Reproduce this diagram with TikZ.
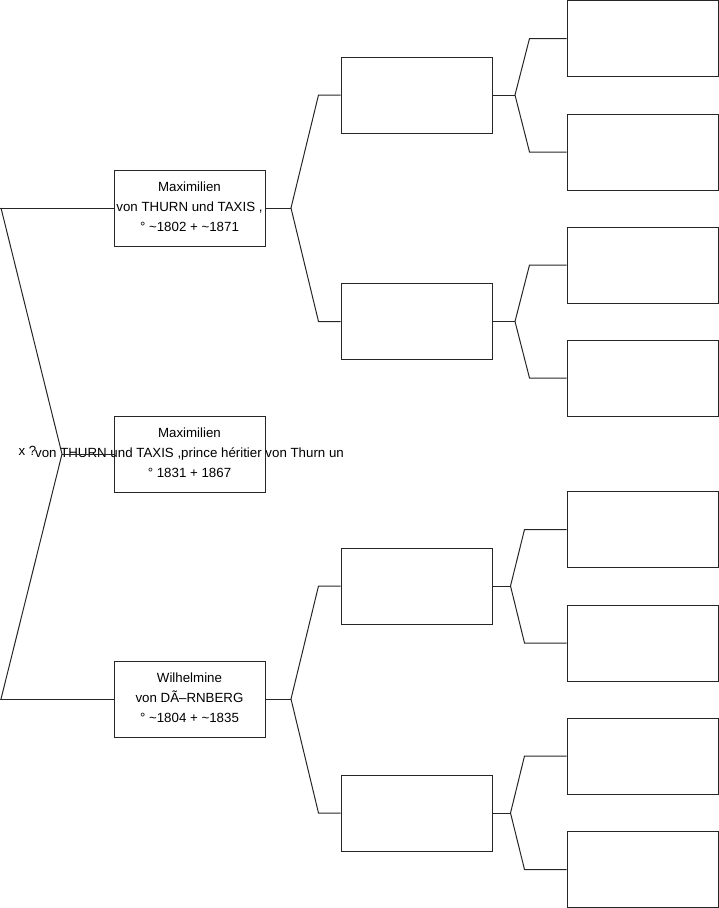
\documentclass[tikz,border=0pt]{standalone}
\usepackage{fontspec}
\setmainfont{Liberation Sans}
\usetikzlibrary{calc}
\begin{document}
\begin{tikzpicture}[x=1pt,y=-1pt,
  line width=1pt,
  personbox/.style={draw=black!85, rectangle, minimum width=151pt, minimum height=76pt, inner sep=0pt},
  persontext/.style={align=center, inner sep=0pt, font=\fontsize{13.3pt}{20pt}\selectfont},
  link/.style={draw=black!85, line join=miter}]
\useasboundingbox (0,0) rectangle (719,908);
% generation 1
\node[personbox] (g1a) at (189.5,208) {};
\node[personbox] (g1b) at (189.5,454) {};
\node[personbox] (g1c) at (189.5,699) {};
% generation 2
\node[personbox] (g2a) at (416.5,95) {};
\node[personbox] (g2b) at (416.5,321.5) {};
\node[personbox] (g2c) at (416.5,586) {};
\node[personbox] (g2d) at (416.5,813) {};
% generation 3
\node[personbox] (g3a) at (642.5,38.5) {};
\node[personbox] (g3b) at (642.5,152) {};
\node[personbox] (g3c) at (642.5,265) {};
\node[personbox] (g3d) at (642.5,378) {};
\node[personbox] (g3e) at (642.5,529.5) {};
\node[personbox] (g3f) at (642.5,643) {};
\node[personbox] (g3g) at (642.5,756) {};
\node[personbox] (g3h) at (642.5,869.5) {};
% texts
\node[persontext, yshift=1.5pt] (t1a) at (g1a.center) {Maximilien\\von THURN und TAXIS ,\\° \textasciitilde 1802 + \textasciitilde 1871};
\node[persontext, yshift=1.5pt] (t1b) at (g1b.center) {Maximilien\\von THURN und TAXIS ,prince héritier von Thurn un\\° 1831 + 1867};
\node[persontext, yshift=1.5pt] (t1c) at (g1c.center) {Wilhelmine\\von DÃ–RNBERG\\° \textasciitilde 1804 + \textasciitilde 1835};
\node[anchor=base west, inner sep=0pt, font=\fontsize{13.3pt}{20pt}\selectfont] (mx) at (18,455) {x ?};
% root connector
\coordinate (r1) at (1,208);
\coordinate (r2) at (62,454);
\coordinate (r3) at (1,699);
\draw[link] (g1a.west) -- (0,208);
\draw[link] (g1c.west) -- (0,699);
\draw[link] (r1) -- (r2) -- (r3);
\draw[link] (r2) -- (g1b.west);
% junctions gen1 -> gen2
\coordinate (j1a) at (291,208);
\coordinate (j1c) at (291,699);
\draw[link] (g1a.east) -- (j1a);
\draw[link] (g2a.west) -- ++(-22,0) -- (j1a) -- ($(g2b.west)+(-22,0)$) -- (g2b.west);
\draw[link] (g1c.east) -- (j1c);
\draw[link] (g2c.west) -- ++(-22,0) -- (j1c) -- ($(g2d.west)+(-22,0)$) -- (g2d.west);
% junctions gen2 -> gen3
\coordinate (j2a) at (515,95);
\coordinate (j2b) at (515,321.5);
\coordinate (j2c) at (510.5,586);
\coordinate (j2d) at (510.5,813);
\draw[link] (g2a.east) -- (j2a);
\draw[link] (g3a.west) -- ++(-37,0) -- (j2a) -- ($(g3b.west)+(-37,0)$) -- (g3b.west);
\draw[link] (g2b.east) -- (j2b);
\draw[link] (g3c.west) -- ++(-37,0) -- (j2b) -- ($(g3d.west)+(-37,0)$) -- (g3d.west);
\draw[link] (g2c.east) -- (j2c);
\draw[link] (g3e.west) -- ++(-42,0) -- (j2c) -- ($(g3f.west)+(-42,0)$) -- (g3f.west);
\draw[link] (g2d.east) -- (j2d);
\draw[link] (g3g.west) -- ++(-42,0) -- (j2d) -- ($(g3h.west)+(-42,0)$) -- (g3h.west);
\end{tikzpicture}
\end{document}
